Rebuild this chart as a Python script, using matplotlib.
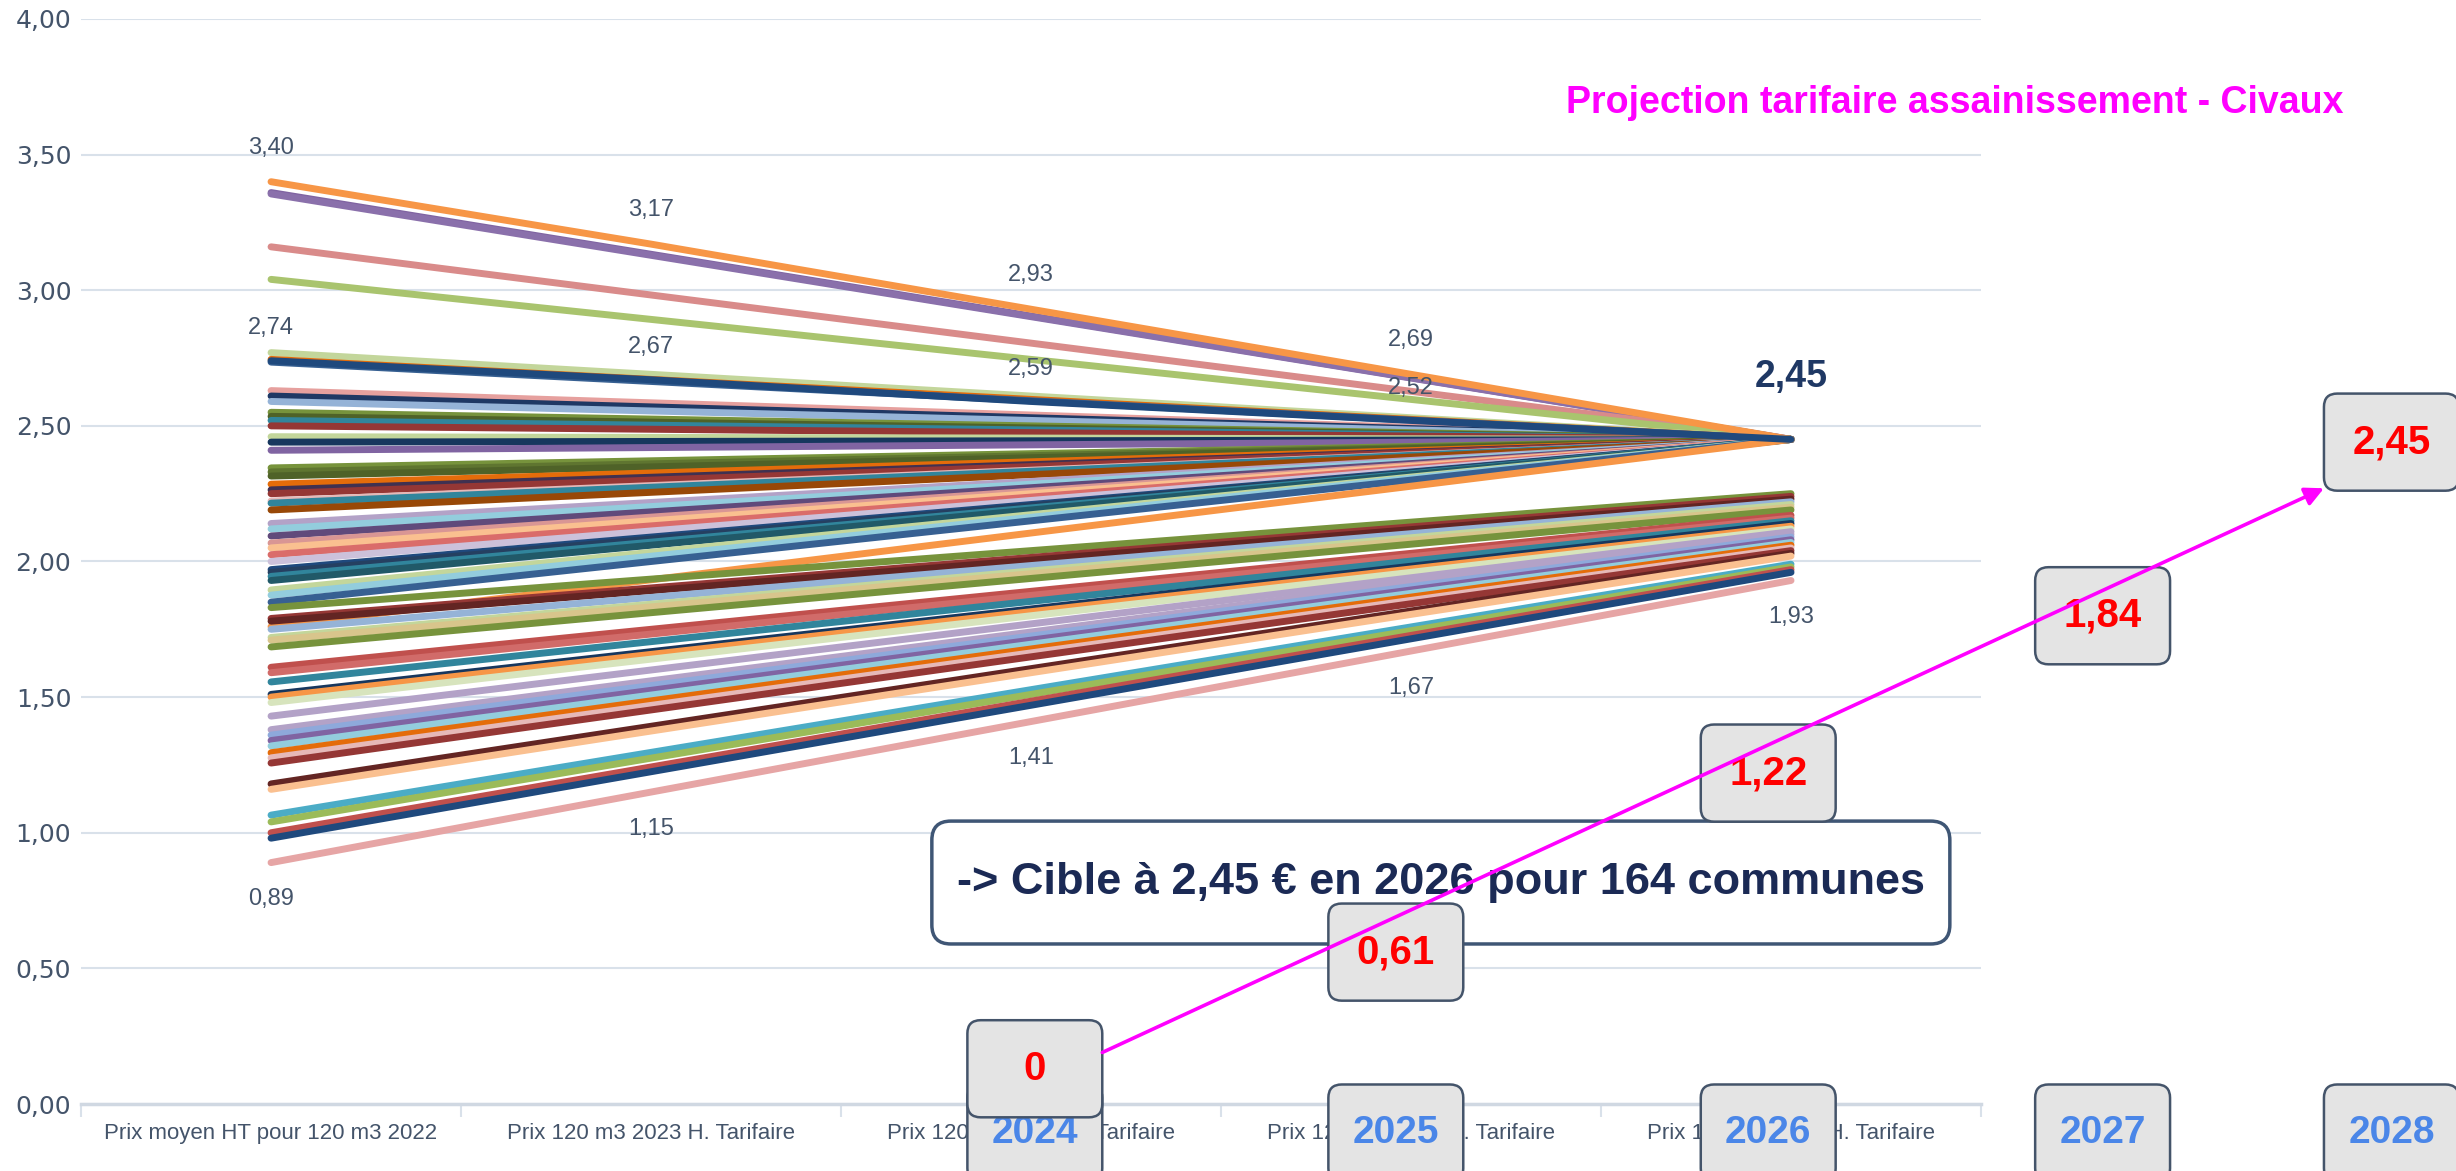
import numpy as np
import matplotlib.pyplot as plt
from matplotlib.patches import FancyBboxPatch
from matplotlib.ticker import FuncFormatter

# Categories on the x axis
categories = ['Prix moyen HT pour 120 m3 2022', 'Prix 120 m3 2023 H. Tarifaire',
              'Prix 120 m3 2024 H. Tarifaire', 'Prix 120 m3 2025 H. Tarifaire',
              'Prix 120 m3 2026 H. Tarifaire']

# Communes that reach the 2,45 target in 2026 (price 2022 -> 2026)
target_2026 = 2.45
conv_start = [3.36, 3.355, 3.16, 3.04, 2.77, 2.745, 2.735, 2.63, 2.61, 2.59, 2.55, 2.535,
              2.52, 2.50, 2.46, 2.44, 2.41, 2.345, 2.33, 2.315, 2.285, 2.264, 2.25, 2.223,
              2.215, 2.19, 2.14, 2.12, 2.094, 2.068, 2.05, 2.025, 2.00, 1.97, 1.96, 1.945,
              1.93, 1.895, 1.876, 1.85, 1.76]
conv_colors = ['#8064a2', '#8a70ab', '#d98b8a', '#a9c46e', '#c3d69b', '#e46c0a', '#376092',
               '#e6a09e', '#1f3864', '#95b3d7', '#77933c', '#4f6228', '#31859c', '#953735',
               '#c3d69b', '#17375e', '#8064a2', '#77933c', '#5f7530', '#4f6228', '#e46c0a',
               '#403151', '#953735', '#e6b9b8', '#31859c', '#984807', '#b3a2c7', '#93cddd',
               '#604a7b', '#d99694', '#fac090', '#da6c6a', '#ccc1da', '#1f497d', '#254061',
               '#31859c', '#215968', '#c3d69b', '#93cddd', '#376092', '#f79646']

# Communes still below the target in 2026
low_start = [1.83, 1.79, 1.78, 1.75, 1.72, 1.71, 1.685, 1.61, 1.59, 1.556, 1.51, 1.50, 1.48,
             1.43, 1.38, 1.36, 1.34, 1.32, 1.295, 1.276, 1.257, 1.18, 1.16, 1.065, 1.04,
             1.00, 0.98]
low_end = [2.25, 2.24, 2.23, 2.22, 2.21, 2.20, 2.19, 2.17, 2.16, 2.15, 2.14, 2.13, 2.12,
           2.11, 2.10, 2.09, 2.08, 2.07, 2.06, 2.05, 2.04, 2.03, 2.02, 1.99, 1.98,
           1.97, 1.96]
low_colors = ['#77933c', '#953735', '#632523', '#95b3d7', '#c3d69b', '#d8c58c', '#77933c',
              '#c0504d', '#d16b69', '#31859c', '#17375e', '#f79646', '#d7e4bd', '#b3a2c7',
              '#b3a2c7', '#8ea9db', '#8064a2', '#93cddd', '#e46c0a', '#e6b9b8', '#953735',
              '#632523', '#fac090', '#4bacc6', '#9bbb59', '#c0504d', '#1f497d']

# Series with data labels
top_series = [3.40, 3.17, 2.93, 2.69, 2.45]
mid_series = [2.74, 2.67, 2.59, 2.52, 2.45]
bottom_series = [0.89, 1.15, 1.41, 1.67, 1.93]

# Yearly projection overlay
proj_years = ['2024', '2025', '2026', '2027', '2028']
proj_values = [0, 0.61, 1.22, 1.84, 2.45]

# layout of the overlay boxes (in category / price units)
box_x = [2.01, 2.96, 3.94, 4.82, 5.58]
box_y = [0.13, 0.56, 1.22, 1.80, 2.44]
year_y = -0.107
box_w, box_h = 0.355, 0.358

narrow = ['Liberation Sans Narrow', 'Liberation Sans', 'DejaVu Sans']
label_col = '#44546a'
grid_col = '#d9e1ea'
LW = 5

fig = plt.figure(figsize=(24.56, 11.71), dpi=100)
ax = fig.add_axes([0.033, 0.0572, 0.7736, 0.9266])
x_pos = np.arange(len(categories))

for s, c in zip(conv_start, conv_colors):
    ax.plot([x_pos[0], x_pos[-1]], [s, target_2026], color=c, lw=LW,
            solid_capstyle='round', zorder=3)
for s, e, c in zip(low_start, low_end, low_colors):
    ax.plot([x_pos[0], x_pos[-1]], [s, e], color=c, lw=LW,
            solid_capstyle='round', zorder=3)
ax.plot(x_pos, top_series, color='#f79646', lw=LW, solid_capstyle='round', zorder=3)
ax.plot(x_pos, mid_series, color='#1f497d', lw=LW, solid_capstyle='round', zorder=3)
ax.plot(x_pos, bottom_series, color='#e6a5a5', lw=LW, solid_capstyle='round', zorder=3)


def fr(v):
    return f'{v:.2f}'.replace('.', ',')


# data labels
for i in range(4):
    ax.text(x_pos[i], top_series[i] + 0.125, fr(top_series[i]), ha='center', va='center',
            fontsize=17, color=label_col, family=narrow)
    ax.text(x_pos[i], mid_series[i] + 0.12, fr(mid_series[i]), ha='center', va='center',
            fontsize=17, color=label_col, family=narrow)
for i in range(5):
    ax.text(x_pos[i], bottom_series[i] - 0.135, fr(bottom_series[i]), ha='center',
            va='center', fontsize=17, color=label_col, family=narrow)
ax.text(x_pos[-1], target_2026 + 0.23, fr(target_2026), ha='center', va='center',
        fontsize=27, fontweight='bold', color='#1f3864', family=narrow)

# axes styling
ax.set_xlim(-0.5, 4.5)
ax.set_ylim(0, 4)
ax.set_yticks(np.arange(0, 4.01, 0.5))
ax.yaxis.set_major_formatter(FuncFormatter(lambda v, p: fr(v)))
ax.set_xticks(x_pos)
ax.set_xticklabels(categories)
ax.set_xticks(np.arange(-0.5, 4.6, 1), minor=True)
ax.tick_params(axis='x', which='major', length=0, pad=14, labelsize=16, labelcolor=label_col)
ax.tick_params(axis='x', which='minor', length=9, color=grid_col, width=1.5)
ax.tick_params(axis='y', length=0, pad=7, labelsize=18, labelcolor=label_col)
for lab in ax.get_xticklabels():
    lab.set_family(narrow)
for lab in ax.get_yticklabels():
    lab.set_family('DejaVu Sans')
ax.grid(axis='y', color=grid_col, lw=1.5, zorder=0)
ax.set_axisbelow(True)
for side in ['top', 'right', 'left']:
    ax.spines[side].set_visible(False)
ax.spines['bottom'].set_color('#d0d8e2')
ax.spines['bottom'].set_linewidth(2.5)

# message box
msg = FancyBboxPatch((1.739, 0.59), 2.679, 0.453, boxstyle='round,pad=0,rounding_size=0.05',
                     mutation_aspect=1.4, fc='white', ec='#3f5675', lw=2.5, zorder=5,
                     clip_on=False)
ax.add_patch(msg)
ax.text(1.739 + 2.679 / 2, 0.817, '-> Cible à 2,45 € en 2026 pour 164 communes',
        ha='center', va='center', fontsize=32.5, fontweight='bold', color='#1b2a55',
        family=narrow, zorder=6)


def grey_box(x, y, z):
    p = FancyBboxPatch((x - box_w / 2, y - box_h / 2), box_w, box_h,
                       boxstyle='round,pad=0,rounding_size=0.035', mutation_aspect=1.4,
                       fc='#e4e4e4', ec='#44546a', lw=1.8, zorder=z, clip_on=False)
    ax.add_patch(p)


# year boxes
for yr, x in zip(proj_years, box_x):
    grey_box(x, year_y, 7)
    ax.text(x, year_y, yr, ha='center', va='center', fontsize=28, fontweight='bold',
            color='#4a86e8', family=narrow, zorder=8, clip_on=False)

# value boxes
for v, x, y in zip(proj_values, box_x, box_y):
    grey_box(x, y, 9)
    txt = '0' if v == 0 else fr(v)
    ax.text(x, y, txt, ha='center', va='center', fontsize=29, fontweight='bold',
            color='#ff0000', family=narrow, zorder=10, clip_on=False)

# projection arrow
ax.annotate('', xy=(box_x[-1] - box_w / 2, box_y[-1] - 0.17),
            xytext=(box_x[0] + box_w / 2, box_y[0] + 0.06),
            arrowprops=dict(arrowstyle='-|>', color='#ff00ff', lw=2.6, mutation_scale=28,
                            shrinkA=0, shrinkB=0),
            zorder=11, annotation_clip=False)

fig.text(0.796, 0.912, 'Projection tarifaire assainissement - Civaux', ha='center',
         va='center', fontsize=27, fontweight='bold', color='#ff00ff', family=narrow)

fig.savefig('out.png', dpi=100)
